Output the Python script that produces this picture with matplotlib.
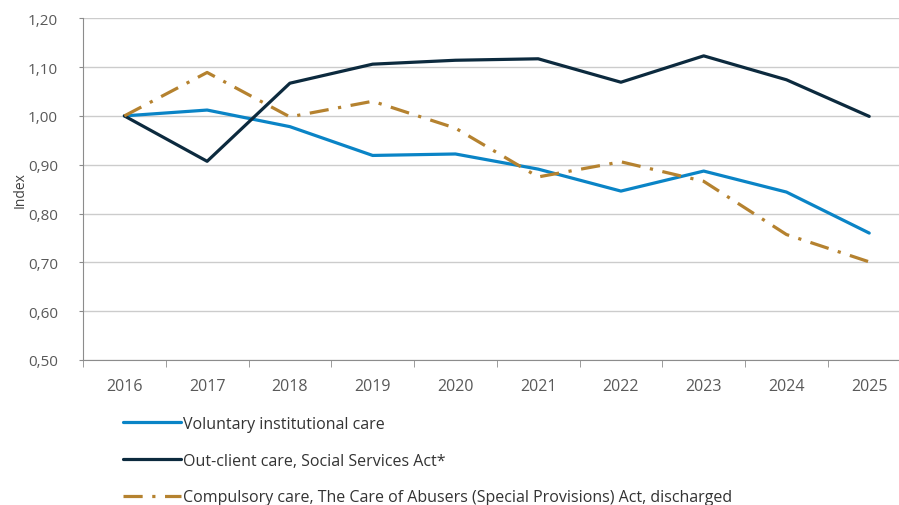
import matplotlib
matplotlib.use("Agg")
import matplotlib.pyplot as plt
from matplotlib.ticker import FuncFormatter, FixedLocator

years = [2016, 2017, 2018, 2019, 2020, 2021, 2022, 2023, 2024, 2025]
voluntary = [1.00, 1.012, 0.978, 0.919, 0.922, 0.891, 0.846, 0.887, 0.844, 0.760]
outclient = [1.00, 0.907, 1.067, 1.106, 1.114, 1.117, 1.069, 1.123, 1.074, 0.999]
compulsory = [1.00, 1.089, 0.998, 1.030, 0.975, 0.875, 0.906, 0.866, 0.757, 0.701]

labels = ["Voluntary institutional care",
          "Out-client care, Social Services Act*",
          "Compulsory care, The Care of Abusers (Special Provisions) Act, discharged"]

plt.rcParams["font.family"] = ["Open Sans", "DejaVu Sans"]
grey = "#595959"

fig = plt.figure(figsize=(8.99, 5.06), dpi=100)
ax = fig.add_axes([0.0923, 0.2866, 0.9206, 0.6753])

x = range(len(years))
ax.plot(x, voluntary, color="#0a84c6", lw=2.3, label=labels[0], solid_capstyle="round")
ax.plot(x, outclient, color="#0c2a3e", lw=2.3, label=labels[1], solid_capstyle="round")
ax.plot(x, compulsory, color="#b5822f", lw=2.3, label=labels[2], dashes=(6, 3, 1, 3))

ax.set_xlim(-0.5, 9.5)
ax.set_ylim(0.5, 1.2)
ax.set_yticks([0.5, 0.6, 0.7, 0.8, 0.9, 1.0, 1.1, 1.2])
ax.yaxis.set_major_formatter(FuncFormatter(lambda v, p: f"{v:.2f}".replace(".", ",")))
ax.set_xticks(list(x))
ax.set_xticklabels([str(y) for y in years])
ax.xaxis.set_minor_locator(FixedLocator([i - 0.5 for i in range(11)]))
ax.tick_params(axis="x", which="major", length=0, pad=13, labelsize=11.5, colors=grey)
ax.tick_params(axis="x", which="minor", length=5, color="#8c8c8c", direction="out")
ax.tick_params(axis="y", length=3, color="#8c8c8c", labelsize=11, colors=grey, pad=15)

ax.grid(axis="y", color="#cccccc", lw=1)
ax.set_axisbelow(True)
for s in ["top", "right"]:
    ax.spines[s].set_visible(False)
for s in ["left", "bottom"]:
    ax.spines[s].set_color("#8c8c8c")

ax.set_ylabel("Index", fontsize=10, color="#404040", labelpad=0)

fig.legend(loc="upper left", bbox_to_anchor=(0.137, 0.176), frameon=False,
           fontsize=11.5, labelspacing=1.3, handlelength=3.6, handletextpad=0.15,
           borderaxespad=0, borderpad=0, labelcolor="#333333")

fig.savefig("out.png", dpi=100)
